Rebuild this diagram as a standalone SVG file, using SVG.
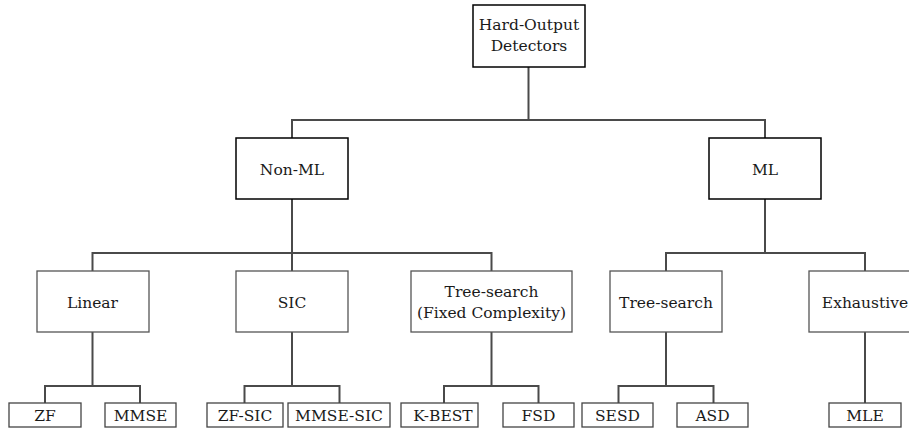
<svg xmlns="http://www.w3.org/2000/svg" width="909" height="428" viewBox="0 0 909 428">
  <style>
    .top rect { fill: #fff; stroke: #000; stroke-width: 1.5; }
    .mid rect { fill: #fff; stroke: #555; stroke-width: 1.3; }
    .leaf rect { fill: #fff; stroke: #444; stroke-width: 1.3; }
    text { font-family: 'DejaVu Serif', 'Liberation Serif', serif; font-size: 15.5px; fill: #1a1a1a; text-anchor: middle; }
    .wires path { fill: none; stroke: #4a4a4a; stroke-width: 2; }
  </style>

  <!-- tree connectors -->
  <g class="wires" id="connectors">
    <path d="M528.5 67 V120 M292 138 V120 H765 V138"/>
    <path d="M292 199 V253 M92.5 271 V253 H491.5 V271 M292 253 V271"/>
    <path d="M765 199 V253 M666 271 V253 H865 V271"/>
    <path d="M92.5 332 V386 M45 403 V386 H140 V403"/>
    <path d="M292 332 V386 M244.5 403 V386 H339.5 V403"/>
    <path d="M491.5 332 V386 M444 403 V386 H538.5 V403"/>
    <path d="M666 332 V386 M618.5 403 V386 H713.5 V403"/>
    <path d="M865 332 V403"/>
  </g>

  <!-- root -->
  <g id="root" class="top">
    <rect x="473" y="5" width="112" height="62"/>
    <text x="529" y="30">Hard-Output</text>
    <text x="529" y="51">Detectors</text>
  </g>

  <!-- first level -->
  <g id="non-ml" class="top">
    <rect x="236" y="138" width="112" height="61"/>
    <text x="292" y="175">Non-ML</text>
  </g>
  <g id="ml" class="top">
    <rect x="709" y="138" width="112" height="61"/>
    <text x="765" y="175">ML</text>
  </g>

  <!-- second level -->
  <g id="linear" class="mid">
    <rect x="37" y="271" width="112" height="61"/>
    <text x="92.5" y="308">Linear</text>
  </g>
  <g id="sic" class="mid">
    <rect x="236" y="271" width="112" height="61"/>
    <text x="292" y="308">SIC</text>
  </g>
  <g id="tree-fixed" class="mid">
    <rect x="411" y="271" width="161" height="61"/>
    <text x="491.5" y="297">Tree-search</text>
    <text x="491.5" y="318">(Fixed Complexity)</text>
  </g>
  <g id="tree-ml" class="mid">
    <rect x="610" y="271" width="112" height="61"/>
    <text x="666" y="308">Tree-search</text>
  </g>
  <g id="exhaustive" class="mid">
    <rect x="809" y="271" width="112" height="61"/>
    <text x="865" y="308">Exhaustive</text>
  </g>

  <!-- leaves -->
  <g id="zf" class="leaf">
    <rect x="9" y="403" width="72" height="24"/>
    <text x="45" y="421">ZF</text>
  </g>
  <g id="mmse" class="leaf">
    <rect x="105" y="403" width="71" height="24"/>
    <text x="140.5" y="421">MMSE</text>
  </g>
  <g id="zf-sic" class="leaf">
    <rect x="207" y="403" width="76" height="24"/>
    <text x="245" y="421">ZF-SIC</text>
  </g>
  <g id="mmse-sic" class="leaf">
    <rect x="288" y="403" width="102" height="24"/>
    <text x="339" y="421">MMSE-SIC</text>
  </g>
  <g id="k-best" class="leaf">
    <rect x="401" y="403" width="77" height="24"/>
    <text x="443" y="421">K-BEST</text>
  </g>
  <g id="fsd" class="leaf">
    <rect x="503" y="403" width="71" height="24"/>
    <text x="538.5" y="421">FSD</text>
  </g>
  <g id="sesd" class="leaf">
    <rect x="582" y="403" width="71" height="24"/>
    <text x="617.5" y="421">SESD</text>
  </g>
  <g id="asd" class="leaf">
    <rect x="677" y="403" width="71" height="24"/>
    <text x="712.5" y="421">ASD</text>
  </g>
  <g id="mle" class="leaf">
    <rect x="829" y="403" width="72" height="24"/>
    <text x="865" y="421">MLE</text>
  </g>
</svg>
